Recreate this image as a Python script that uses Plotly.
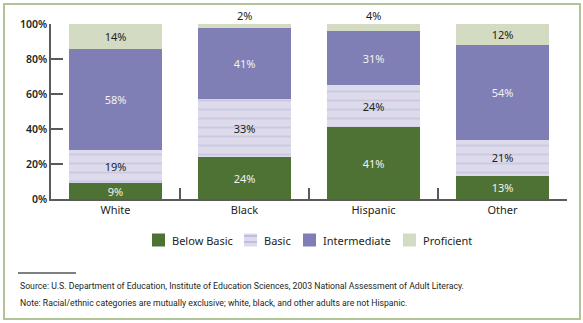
import plotly.graph_objects as go

categories = ["White", "Black", "Hispanic", "Other"]
below_basic = [9, 24, 41, 13]
basic = [19, 33, 24, 21]
intermediate = [58, 41, 31, 54]
proficient = [14, 2, 4, 12]
levels = ["Below Basic", "Basic", "Intermediate", "Proficient"]
ytick_vals = [0, 20, 40, 60, 80, 100]
ytick_text = ["0%", "20%", "40%", "60%", "80%", "100%"]
source_text = "Source: U.S. Department of Education, Institute of Education Sciences, 2003 National Assessment of Adult Literacy."
note_text = "Note: Racial/ethnic categories are mutually exclusive; white, black, and other adults are not Hispanic."

W, H = 583, 323
L, R, T, B = 51, 567, 24, 199

def px(x):
    return (x - L) / (R - L)

def py(y):
    return (B - y) / (B - T)

GREEN = "#4e7233"
LAV_BG = "#dcdaeb"
LAV_FG = "#b9b5d6"
PURPLE = "#7f7fb6"
SAGE = "#d3dbc2"
DARK = "#231f20"
FONT = "Noto Sans"

fig = go.Figure()
common = dict(width=0.72, texttemplate="%{y}%", insidetextanchor="middle",
              constraintext="none", cliponaxis=False, showlegend=False,
              hoverinfo="skip")
fig.add_trace(go.Bar(x=categories, y=below_basic, name=levels[0],
                     marker=dict(color=GREEN, line=dict(width=0)),
                     textposition="inside",
                     textfont=dict(color="#f2f2f2", size=11, family=FONT), **common))
fig.add_trace(go.Bar(x=categories, y=basic, name=levels[1],
                     marker=dict(color=LAV_BG, line=dict(width=0),
                                 pattern=dict(shape="-", size=9, solidity=0.2,
                                              fgcolor=LAV_FG, bgcolor=LAV_BG)),
                     textposition="inside",
                     textfont=dict(color=DARK, size=11, family=FONT), **common))
fig.add_trace(go.Bar(x=categories, y=intermediate, name=levels[2],
                     marker=dict(color=PURPLE, line=dict(width=0)),
                     textposition="inside",
                     textfont=dict(color="#f2f2f2", size=11, family=FONT), **common))
fig.add_trace(go.Bar(x=categories, y=proficient, name=levels[3],
                     marker=dict(color=SAGE, line=dict(width=0)),
                     textposition=["inside" if v >= 8 else "none" for v in proficient],
                     textfont=dict(color=DARK, size=11, family=FONT), **common))

shapes = []
# outer border
shapes.append(dict(type="rect", xref="paper", yref="paper",
                   x0=px(4), x1=px(580), y0=py(319), y1=py(4),
                   line=dict(color="#b0c597", width=2), layer="below"))
# footnote rule
shapes.append(dict(type="line", xref="paper", yref="paper",
                   x0=px(18), x1=px(76), y0=py(273), y1=py(273),
                   line=dict(color="#808080", width=2)))

annotations = []
# labels above stacks for small top segments
for i, c in enumerate(categories):
    if proficient[i] < 8:
        top = below_basic[i] + basic[i] + intermediate[i] + proficient[i]
        annotations.append(dict(text=f"{proficient[i]}%", x=c, y=top, xref="x", yref="y",
                                xanchor="center", yanchor="bottom", showarrow=False,
                                yshift=-1, font=dict(family=FONT, size=11, color=DARK)))

legend_items = [(152, 170, GREEN), (244, 262, None), (303, 321, PURPLE), (403, 421, SAGE)]
ly = 240
for (sx, tx, col), name in zip(legend_items, levels):
    if col is None:
        shapes.append(dict(type="rect", xref="paper", yref="paper",
                           x0=px(sx), x1=px(sx + 13), y0=py(ly + 6.5), y1=py(ly - 6.5),
                           fillcolor=LAV_BG, line=dict(width=0)))
        for yy in (ly - 4, ly + 2):
            shapes.append(dict(type="line", xref="paper", yref="paper",
                               x0=px(sx), x1=px(sx + 13), y0=py(yy), y1=py(yy),
                               line=dict(color=LAV_FG, width=1.5)))
    else:
        shapes.append(dict(type="rect", xref="paper", yref="paper",
                           x0=px(sx), x1=px(sx + 13), y0=py(ly + 6.5), y1=py(ly - 6.5),
                           fillcolor=col, line=dict(width=0)))
    annotations.append(dict(text=name, xref="paper", yref="paper", x=px(tx), y=py(ly),
                            xanchor="left", yanchor="middle", showarrow=False,
                            font=dict(family=FONT, size=11, color=DARK)))

foot_font = dict(family="Roboto, sans-serif", size=8.7, color=DARK)
annotations.append(dict(text=source_text, xref="paper", yref="paper", x=px(18), y=py(286),
                        xanchor="left", yanchor="middle", showarrow=False, font=foot_font))
annotations.append(dict(text=note_text, xref="paper", yref="paper", x=px(18), y=py(303),
                        xanchor="left", yanchor="middle", showarrow=False, font=foot_font))

fig.update_layout(
    width=W, height=H, barmode="stack", bargap=0.28,
    margin=dict(l=L, r=W - R, t=T, b=H - B, autoexpand=False),
    plot_bgcolor="white", paper_bgcolor="white",
    shapes=shapes, annotations=annotations,
    uniformtext=dict(mode=False),
)
fig.update_xaxes(showgrid=False, showline=True, linecolor="#5a5a5a", linewidth=1.5,
                 ticks="inside", tickson="boundaries", ticklen=11, tickcolor="#5a5a5a",
                 tickwidth=1.5, tickfont=dict(family=FONT, size=11, color=DARK),
                 fixedrange=True)
fig.update_yaxes(range=[0, 100], tickvals=ytick_vals, ticktext=ytick_text,
                 showgrid=False, zeroline=False, showline=True, linecolor="#5a5a5a",
                 linewidth=1.5, ticks="inside", ticklen=12, tickcolor="#5a5a5a", tickwidth=1.5,
                 tickfont=dict(family=FONT, size=10.5, color=DARK, weight=600),
                 fixedrange=True)

fig.write_html("out.html", config={"displayModeBar": False})
